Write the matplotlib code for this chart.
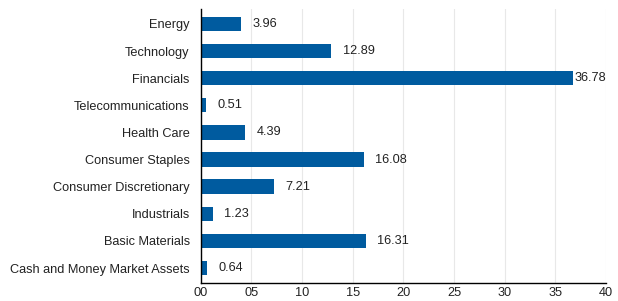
import matplotlib
matplotlib.use("Agg")
import matplotlib.pyplot as plt
from matplotlib.ticker import FuncFormatter

categories = ["Energy", "Technology", "Financials", "Telecommunications", "Health Care",
              "Consumer Staples", "Consumer Discretionary", "Industrials", "Basic Materials",
              "Cash and Money Market Assets"]
values = [3.96, 12.89, 36.78, 0.51, 4.39, 16.08, 7.21, 1.23, 16.31, 0.64]
xticks = [0, 5, 10, 15, 20, 25, 30, 35, 40]

plt.rcParams['font.family'] = ['Liberation Sans', 'DejaVu Sans']

fig = plt.figure(figsize=(6.18, 3.01), dpi=100)
ax = fig.add_axes([0.325, 0.06, 0.6555, 0.91])

ypos = list(range(len(categories)))
color = "#005b9f"
ax.barh(ypos, values, height=0.53, color=color, zorder=3)
ax.set_ylim(len(categories) - 0.45, -0.55)
ax.set_xlim(0, 40)
ax.set_yticks(ypos)
ax.set_yticklabels(categories, fontsize=9.2, color="#222222")
ax.set_xticks(xticks)
ax.xaxis.set_major_formatter(FuncFormatter(lambda v, p: "%02d" % v))
ax.tick_params(axis='x', length=0, labelsize=9.2, pad=3, colors="#222222")
ax.tick_params(axis='y', length=0, pad=8)
ax.grid(axis='x', color="#e8e8e8", linewidth=0.8, zorder=0)
for s in ["top", "right"]:
    ax.spines[s].set_visible(False)
for s in ["left", "bottom"]:
    ax.spines[s].set_color("black")
    ax.spines[s].set_linewidth(1.0)
    ax.spines[s].set_zorder(4)

for y, v in zip(ypos, values):
    if v > 34:
        ax.annotate(f"{v:.2f}", (v, y), xytext=(1, 0), textcoords="offset points",
                    va="center", ha="left", fontsize=9.2, color="#222222")
    else:
        ax.annotate(f"{v:.2f}", (v, y), xytext=(8, 0), textcoords="offset points",
                    va="center", ha="left", fontsize=9.2, color="#222222")

fig.savefig("out.png", dpi=100)
